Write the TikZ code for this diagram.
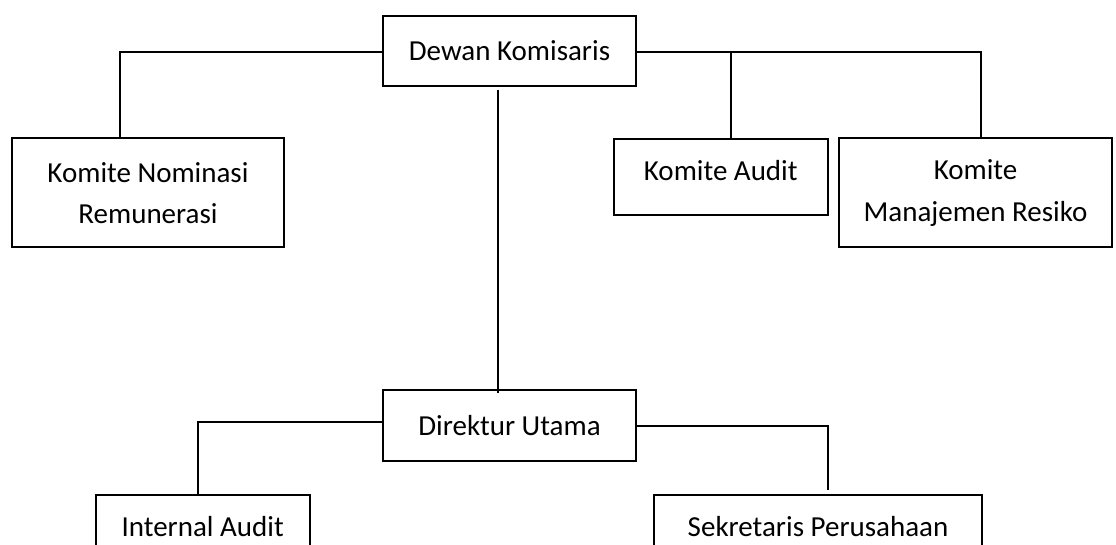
\documentclass[tikz,border=0pt]{standalone}
\usepackage{fontspec}
\setmainfont{Carlito}
\begin{document}
\begin{tikzpicture}[x=1pt,y=-1pt,
  unit/.style={draw=black, line width=2pt, rectangle, inner sep=0pt,
    align=center, font=\fontsize{29}{41.5}\selectfont},
  toprow/.style={unit, text height=20pt, text depth=13pt},
  link/.style={draw=black, line width=1.8pt}]
  % page area
  \clip (0,0) rectangle (1116,545);

  % board of commissioners and its committees
  \node[unit, minimum width=253pt, minimum height=70pt] (dewan) at (509.5,51) {Dewan Komisaris};
  \node[unit, minimum width=272pt, minimum height=109pt] (nominasi) at (148,193) {Komite Nominasi\\Remunerasi};
  \node[toprow, minimum width=214.5pt, minimum height=76.5pt] (audit) at (720.75,176.8) {Komite Audit};
  \node[unit, minimum width=273pt, minimum height=109pt] (resiko) at (975.5,193) {Komite\\Manajemen Resiko};

  % board of directors and its units
  \node[unit, minimum width=253pt, minimum height=70.5pt] (direktur) at (509.5,425.3) {Direktur Utama};
  \node[toprow, minimum width=214pt, minimum height=76.5pt] (internal) at (202.7,532.9) {Internal Audit};
  \node[toprow, minimum width=328pt, minimum height=76.5pt] (sekretaris) at (818,532.9) {Sekretaris Perusahaan};

  % connectors
  \draw[link] ([yshift=-1pt]dewan.west) -| ([xshift=-28pt]nominasi.north);
  \draw[link] ([yshift=-1pt]dewan.east) -| ([xshift=5.5pt]resiko.north);
  \draw[link] ([xshift=10.25pt]audit.north) -- ([xshift=10.25pt]audit.north |- dewan.east);
  \draw[link] ([xshift=-11.5pt,yshift=-3pt]dewan.south) -- ([xshift=-11.5pt,yshift=-3.5pt]direktur.north);
  \draw[link] ([yshift=3pt]direktur.west) -| ([xshift=-5pt]internal.north);
  \draw[link] ([yshift=-1pt]direktur.east) -| ([xshift=10pt,yshift=3.5pt]sekretaris.north);
\end{tikzpicture}
\end{document}
